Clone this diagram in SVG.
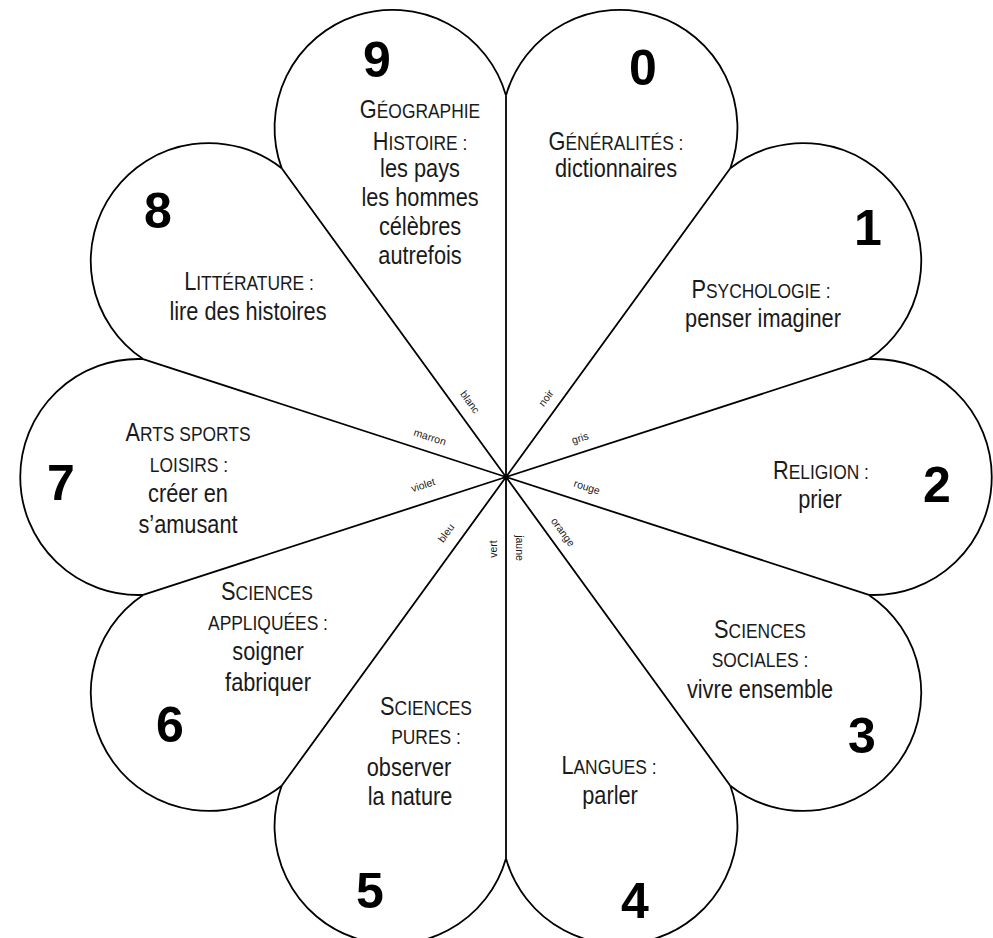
<svg xmlns="http://www.w3.org/2000/svg" width="993" height="938" viewBox="0 0 993 938">
<style>
.petal{fill:none;stroke:#000;stroke-width:1.8}
.ray{stroke:#000;stroke-width:1.8;fill:none}
.t{font-family:"Liberation Sans",Arial,sans-serif;font-size:25px;text-anchor:middle;fill:#1a1a1a}
.sc{font-size:20px}
.num{font-family:"Liberation Sans",Arial,sans-serif;font-weight:bold;font-size:50px;text-anchor:middle;fill:#000}
.c{font-family:"Liberation Sans",Arial,sans-serif;font-size:10.5px;text-anchor:middle;fill:#1a1a1a}
</style>
<rect width="993" height="938" fill="#fff"/>
<g id="petal-0">
<path class="petal" d="M506,95.4 A118,118 0 1 1 730.3,168.3"/>
<text class="num" x="643" y="85">0</text>
<text class="t" transform="translate(616,150) scale(0.87,1)">G<tspan class="sc">ÉNÉRALITÉS :</tspan></text>
<text class="t" transform="translate(616,177) scale(0.87,1)">dictionnaires</text>
</g>
<g id="petal-1">
<path class="petal" d="M730.3,168.3 A118,118 0 1 1 868.9,359.1"/>
<text class="num" x="868" y="245">1</text>
<text class="t" transform="translate(761,298) scale(0.87,1)">P<tspan class="sc">SYCHOLOGIE :</tspan></text>
<text class="t" transform="translate(763,327) scale(0.87,1)">penser imaginer</text>
</g>
<g id="petal-2">
<path class="petal" d="M868.9,359.1 A118,118 0 1 1 868.9,594.9"/>
<text class="num" x="937" y="502">2</text>
<text class="t" transform="translate(821,479) scale(0.87,1)">R<tspan class="sc">ELIGION :</tspan></text>
<text class="t" transform="translate(820,508) scale(0.87,1)">prier</text>
</g>
<g id="petal-3">
<path class="petal" d="M868.9,594.9 A118,118 0 1 1 730.3,785.7"/>
<text class="num" x="862" y="753">3</text>
<text class="t" transform="translate(760,638) scale(0.87,1)">S<tspan class="sc">CIENCES</tspan></text>
<text class="t" transform="translate(760,667) scale(0.87,1)"><tspan class="sc">SOCIALES :</tspan></text>
<text class="t" transform="translate(760,698) scale(0.87,1)">vivre ensemble</text>
</g>
<g id="petal-4">
<path class="petal" d="M730.3,785.7 A118,118 0 1 1 506,858.6"/>
<text class="num" x="635" y="918">4</text>
<text class="t" transform="translate(609,774) scale(0.87,1)">L<tspan class="sc">ANGUES :</tspan></text>
<text class="t" transform="translate(610,804) scale(0.87,1)">parler</text>
</g>
<g id="petal-5">
<path class="petal" d="M506,858.6 A118,118 0 1 1 281.7,785.7"/>
<text class="num" x="370" y="908">5</text>
<text class="t" transform="translate(426,715) scale(0.87,1)">S<tspan class="sc">CIENCES</tspan></text>
<text class="t" transform="translate(426,744) scale(0.87,1)"><tspan class="sc">PURES :</tspan></text>
<text class="t" transform="translate(409,776) scale(0.87,1)">observer</text>
<text class="t" transform="translate(410,805) scale(0.87,1)">la nature</text>
</g>
<g id="petal-6">
<path class="petal" d="M281.7,785.7 A118,118 0 1 1 143.1,594.9"/>
<text class="num" x="170" y="742">6</text>
<text class="t" transform="translate(267,600) scale(0.87,1)">S<tspan class="sc">CIENCES</tspan></text>
<text class="t" transform="translate(268,630) scale(0.87,1)"><tspan class="sc">APPLIQUÉES :</tspan></text>
<text class="t" transform="translate(268,660) scale(0.87,1)">soigner</text>
<text class="t" transform="translate(268,691) scale(0.87,1)">fabriquer</text>
</g>
<g id="petal-7">
<path class="petal" d="M143.1,594.9 A118,118 0 1 1 143.1,359.1"/>
<text class="num" x="61" y="500">7</text>
<text class="t" transform="translate(188,441) scale(0.87,1)">A<tspan class="sc">RTS SPORTS</tspan></text>
<text class="t" transform="translate(189,472) scale(0.87,1)"><tspan class="sc">LOISIRS :</tspan></text>
<text class="t" transform="translate(188,502) scale(0.87,1)">créer en</text>
<text class="t" transform="translate(188,533) scale(0.87,1)">s’amusant</text>
</g>
<g id="petal-8">
<path class="petal" d="M143.1,359.1 A118,118 0 1 1 281.7,168.3"/>
<text class="num" x="158" y="228">8</text>
<text class="t" transform="translate(249,290) scale(0.87,1)">L<tspan class="sc">ITTÉRATURE :</tspan></text>
<text class="t" transform="translate(248,320) scale(0.87,1)">lire des histoires</text>
</g>
<g id="petal-9">
<path class="petal" d="M281.7,168.3 A118,118 0 1 1 506,95.4"/>
<text class="num" x="377" y="77">9</text>
<text class="t" transform="translate(420,118) scale(0.87,1)">G<tspan class="sc">ÉOGRAPHIE</tspan></text>
<text class="t" transform="translate(420,150) scale(0.87,1)">H<tspan class="sc">ISTOIRE :</tspan></text>
<text class="t" transform="translate(420,177) scale(0.87,1)">les pays</text>
<text class="t" transform="translate(420,206) scale(0.87,1)">les hommes</text>
<text class="t" transform="translate(420,235) scale(0.87,1)">célèbres</text>
<text class="t" transform="translate(420,264) scale(0.87,1)">autrefois</text>
</g>
<g id="connectors">
<path class="ray" d="M506,477 L506,95.4 M506,477 L730.3,168.3 M506,477 L868.9,359.1 M506,477 L868.9,594.9 M506,477 L730.3,785.7 M506,477 L506,858.6 M506,477 L281.7,785.7 M506,477 L143.1,594.9 M506,477 L143.1,359.1 M506,477 L281.7,168.3"/>
<text class="c" dy="0.35em" transform="translate(470,402) rotate(54)">blanc</text>
<text class="c" dy="0.35em" transform="translate(546,398) rotate(-54)">noir</text>
<text class="c" dy="0.35em" transform="translate(580,438) rotate(-18)">gris</text>
<text class="c" dy="0.35em" transform="translate(587,487) rotate(18)">rouge</text>
<text class="c" dy="0.35em" transform="translate(563,532) rotate(54)">orange</text>
<text class="c" dy="0.35em" transform="translate(520,548) rotate(90)">jaune</text>
<text class="c" dy="0.35em" transform="translate(493,549) rotate(-90)">vert</text>
<text class="c" dy="0.35em" transform="translate(446,533) rotate(-54)">bleu</text>
<text class="c" dy="0.35em" transform="translate(423,485) rotate(-18)">violet</text>
<text class="c" dy="0.35em" transform="translate(430,437) rotate(18)">marron</text>
</g>
</svg>
